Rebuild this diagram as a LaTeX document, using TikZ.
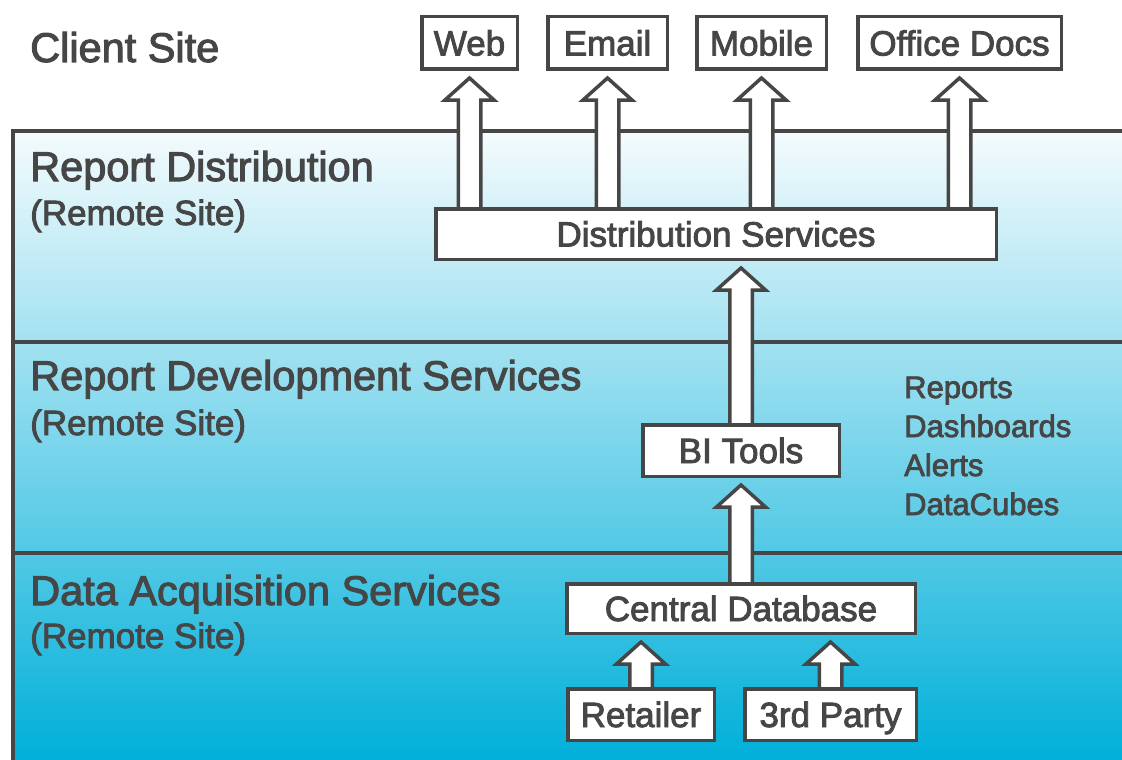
\documentclass[tikz,border=0pt]{standalone}
\usepackage{fontspec}
\setmainfont{Liberation Sans}[FakeBold=2.5]
\usetikzlibrary{calc}

\definecolor{ink}{HTML}{464646}
\definecolor{skytop}{HTML}{F4FBFD}
\definecolor{skybot}{HTML}{00AFD9}

\pgfdeclarelayer{bg}
\pgfdeclarelayer{arrows}
\pgfsetlayers{bg,arrows,main}

\tikzset{
  boxnode/.style={draw=ink, line width=3.5pt, fill=white, text=ink,
    inner sep=0pt, text height=25pt, text depth=0pt,
    font=\fontsize{35}{42}\selectfont},
  heading/.style={anchor=base west, inner sep=0pt, text=ink,
    font=\fontsize{41.5}{48}\selectfont},
  subhead/.style={anchor=base west, inner sep=0pt, text=ink,
    font=\fontsize{35}{42}\selectfont},
  listitem/.style={anchor=base west, inner sep=0pt, text=ink,
    font=\fontsize{31}{37}\selectfont},
  framelines/.style={draw=ink, line width=3.5pt},
  blockarrow/.style={draw=ink, line width=3.5pt, fill=white, line join=miter},
}

% hollow block arrow pointing up from #1 to #2, centred on the x of #3
\newcommand\blockup[3]{%
  \draw[blockarrow] let \p1=(#3.center), \p2=(#1.center), \p3=(#2.south) in
    ({\x1-11.25pt},\y2) -- ({\x1-11.25pt},{\y3-29pt})
    -- ({\x1-24.5pt},{\y3-29pt}) -- (\x1,{\y3-7pt})
    -- ({\x1+24.5pt},{\y3-29pt}) -- ({\x1+11.25pt},{\y3-29pt})
    -- ({\x1+11.25pt},\y2);}

\begin{document}
\begin{tikzpicture}[x=1pt, y=-1pt]
\useasboundingbox (0,0) rectangle (1122,760);

% layered bands of the remote site
\begin{pgfonlayer}{bg}
  \shade[top color=skytop, bottom color=skybot] (13,131) rectangle (1124,762);
  \draw[framelines] (13,764) -- (13,131) -- (1126,131);
  \draw[framelines] (13,342) -- (1126,342);
  \draw[framelines] (13,553) -- (1126,553);
\end{pgfonlayer}

% band titles
\node[heading] (hclient) at (30,62)  {Client Site};
\node[heading] (hdist)   at (30,181) {Report Distribution};
\node[subhead] (sdist)   at (30,225) {(Remote Site)};
\node[heading] (hdev)    at (30,390) {Report Development Services};
\node[subhead] (sdev)    at (30,435) {(Remote Site)};
\node[heading] (hacq)    at (30,605) {Data Acquisition Services};
\node[subhead] (sacq)    at (30,648) {(Remote Site)};

% outputs of the BI tools
\node[listitem] (lrep)  at (904,398) {Reports};
\node[listitem] (ldash) at (904,437) {Dashboards};
\node[listitem] (lalrt) at (904,476) {Alerts};
\node[listitem] (lcube) at (904,515) {DataCubes};

% client channels
\node[boxnode, minimum width=95.5pt,  minimum height=52.5pt] (web)    at (469.5,43) {Web};
\node[boxnode, minimum width=119.5pt, minimum height=52.5pt] (email)  at (607.5,43) {Email};
\node[boxnode, minimum width=129.5pt, minimum height=52.5pt] (mobile) at (761.5,43) {Mobile};
\node[boxnode, minimum width=203.5pt, minimum height=52.5pt] (office) at (959.5,43) {Office Docs};

% services
\node[boxnode, minimum width=560.5pt, minimum height=50.5pt] (dist)     at (716,234)     {Distribution Services};
\node[boxnode, minimum width=196.5pt, minimum height=51.5pt] (bi)       at (741,450.5)   {BI Tools};
\node[boxnode, minimum width=348.5pt, minimum height=49.5pt] (cdb)      at (741,608.5)   {Central Database};
\node[boxnode, minimum width=146.5pt, minimum height=51.5pt] (retailer) at (641,714.5)   {Retailer};
\node[boxnode, minimum width=171.5pt, minimum height=51.5pt] (third)    at (830.5,714.5) {3rd Party};

% data flow
\begin{pgfonlayer}{arrows}
  \blockup{dist}{web}{web}
  \blockup{dist}{email}{email}
  \blockup{dist}{mobile}{mobile}
  \blockup{dist}{office}{office}
  \blockup{bi}{dist}{bi}
  \blockup{cdb}{bi}{cdb}
  \blockup{retailer}{cdb}{retailer}
  \blockup{third}{cdb}{third}
\end{pgfonlayer}
\end{tikzpicture}
\end{document}
